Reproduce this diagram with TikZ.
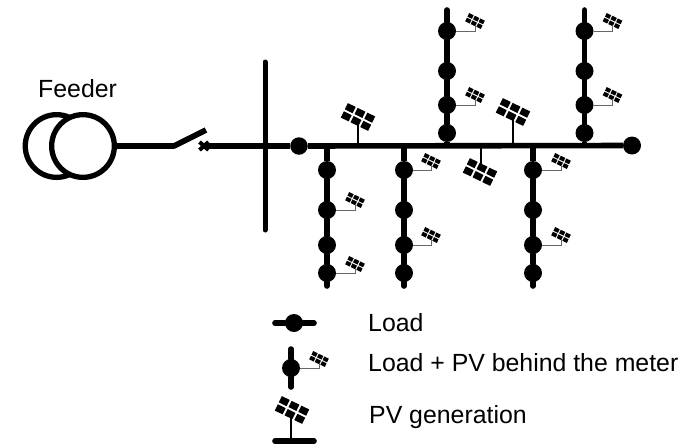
\documentclass[tikz,border=0pt]{standalone}
\usepackage{fontspec}
\setmainfont{Liberation Sans}
\usetikzlibrary{calc}
\tikzset{
  x=1pt,y=-1pt,
  busline/.style={line width=5.6pt,line cap=round,black},
  load/.style={circle,fill=black,draw=none,inner sep=0pt,minimum size=18pt},
  xfmr/.style={circle,draw=black,line width=5.3pt,inner sep=0,minimum size=62.7pt},
  wire/.style={line width=1pt,gray!80!black},
  pole/.style={line width=2pt,black},
  lbl/.style={anchor=base west,inner sep=0pt,font=\fontsize{24.85}{27}\selectfont},
  pvpanel/.pic={
    \foreach \cx in {-1,0,1}{\foreach \cy in {-0.5,0.5}{
      \fill[black,rotate=-26] ({\cx*6.2-2.5},{\cy*5.2-2}) rectangle ++(5,4);
    }}
  }
}
\newcommand{\smallpv}[2]{% load node, panel position
  \pic[scale=1] at (#2) {pvpanel};
  \draw[wire] (#1.east) -| ($(#2)+(0,4)$);
}
\begin{document}
\begin{tikzpicture}
\useasboundingbox (0,0) rectangle (686,445);
% transformer
\node[xfmr] (t1) at (56.6,146) {};
\node[xfmr,fill=white] (t2) at (83,146) {};
\coordinate (s1) at (174,146);
\coordinate (s2) at (206,130);
\coordinate (sw) at (206,146);
\draw[busline,line cap=butt,line join=round] (t2.east) -- (s1) -- (s2);
\draw[line width=4pt,black] (199.5,142) -- (208.5,150) (199.5,150) -- (208.5,142);
\node[load,minimum size=17.5pt] (root) at (299,146) {};
\node[load] (endb) at (632,145.5) {};
\coordinate (bt) at (265,62);
\coordinate (bb) at (265,230);
\draw[busline,line width=5pt] (bt) -- (bb);
\draw[busline,line cap=butt] (sw) -- (root) -- (endb);
% upward laterals
\foreach \n/\x in {a/447,b/584.5}{
  \node[load] (\n1) at (\x,31) {};
  \node[load] (\n2) at (\x,71) {};
  \node[load] (\n3) at (\x,105) {};
  \node[load] (\n4) at (\x,133) {};
  \coordinate (\n t) at (\x,10);
  \coordinate (\n b) at (\x,145);
  \draw[busline] (\n t) -- (\n1) -- (\n2) -- (\n3) -- (\n4);
  \draw[busline,line cap=butt] (\n4) -- (\n b);
}
% downward laterals
\foreach \n/\x in {c/327,d/404,e/533}{
  \node[load] (\n1) at (\x,170) {};
  \node[load] (\n2) at (\x,210) {};
  \node[load] (\n3) at (\x,245) {};
  \node[load] (\n4) at (\x,273) {};
  \coordinate (\n t) at (\x,146);
  \coordinate (\n b) at (\x,286);
  \draw[busline,line cap=butt] (\n t) -- (\n1);
  \draw[busline] (\n1) -- (\n2) -- (\n3) -- (\n4) -- (\n b);
}
% small PV
\smallpv{a1}{475,21}
\smallpv{a3}{475,95}
\smallpv{b1}{612.5,21}
\smallpv{b3}{612.5,95}
\smallpv{c2}{355,200}
\smallpv{c4}{355,264}
\smallpv{d1}{431,161}
\smallpv{d3}{431,235}
\smallpv{e1}{561,161}
\smallpv{e3}{561,235}
% large PV
\coordinate (p1) at (358,117);
\coordinate (p2) at (513,112);
\coordinate (p3) at (480,172);
\draw[pole] (p1 |- 0,123) -- (p1 |- 0,146);
\draw[pole] (p2 |- 0,116) -- (p2 |- 0,146);
\draw[pole] (481,146) -- (481,166);
\pic[scale=1.75] at (p1) {pvpanel};
\pic[scale=1.75] at (p2) {pvpanel};
\pic[scale=1.75] at (p3) {pvpanel};
% legend
\node[load] (l1) at (294,323) {};
\coordinate (l1a) at (275,323);
\coordinate (l1b) at (314,323);
\draw[busline] (l1a) -- (l1) -- (l1b);
\node[load] (l2) at (291,368) {};
\coordinate (l2a) at (291,349);
\coordinate (l2b) at (291,387);
\draw[busline] (l2a) -- (l2) -- (l2b);
\smallpv{l2}{319,359}
\coordinate (l3a) at (275,441);
\coordinate (l3b) at (314,441);
\coordinate (l3p) at (292,410);
\draw[busline] (l3a) -- (l3b);
\draw[pole] (291,416) -- (291,441);
\pic[scale=1.75] at (l3p) {pvpanel};
% text
\node[lbl] (feeder) at (38,97) {Feeder};
\node[lbl] (t-load) at (368,331) {Load};
\node[lbl] (t-lpv) at (368,371) {Load + PV behind the meter};
\node[lbl] (t-pv) at (369,423) {PV generation};
\end{tikzpicture}
\end{document}
